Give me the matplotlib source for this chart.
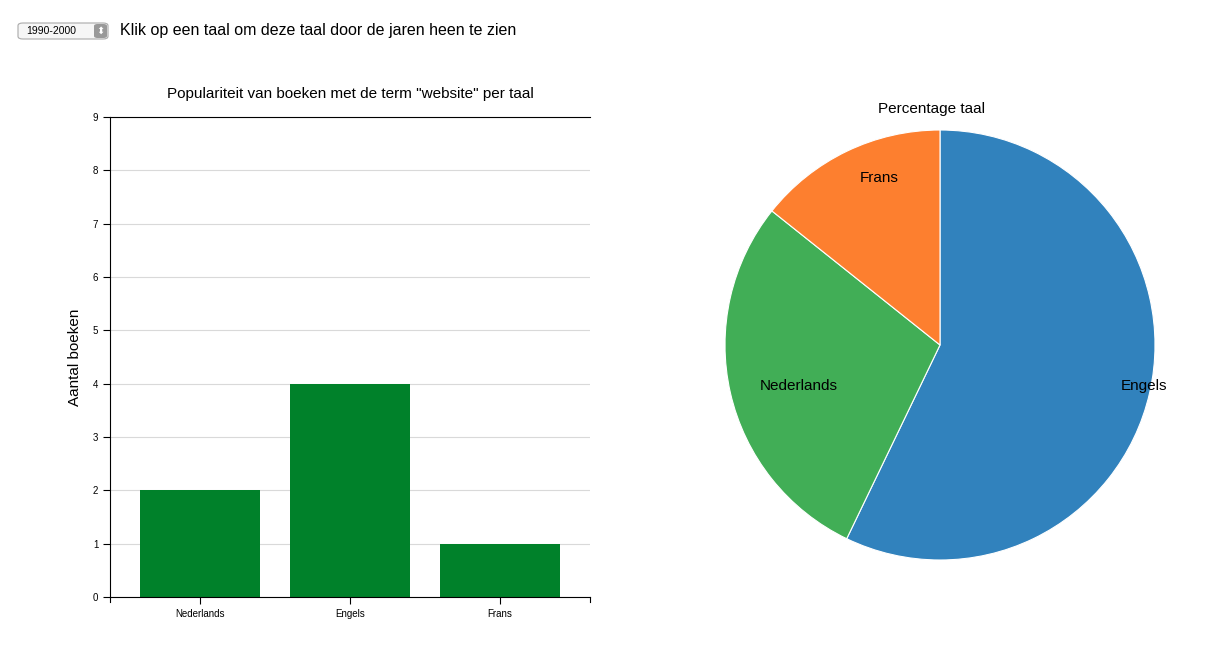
import numpy as np
import matplotlib
matplotlib.use('Agg')
import matplotlib.pyplot as plt
from matplotlib.patches import FancyBboxPatch

plt.rcParams['font.family'] = ['Liberation Sans', 'DejaVu Sans']

talen = ['Nederlands', 'Engels', 'Frans']
aantal = [2, 4, 1]
pie_talen = ['Engels', 'Nederlands', 'Frans']
pie_waarden = [4, 2, 1]
pie_kleuren = ['#3182bd', '#41ae56', '#fd7f2f']
jaren = '1990-2000'

fig = plt.figure(figsize=(12.21, 6.54), dpi=100)

# dropdown + instructie
box = FancyBboxPatch((18 / 1221, 1 - 39 / 654), 90 / 1221, 16 / 654,
                     boxstyle='round,pad=0,rounding_size=0.004',
                     transform=fig.transFigure, fc='#f6f6f6', ec='#aaaaaa', lw=0.8)
fig.patches.append(box)
fig.text(26 / 1221, 1 - 31 / 654, jaren, fontsize=7.5, va='center')
fig.patches.append(FancyBboxPatch((94 / 1221, 1 - 38 / 654), 13 / 1221, 14 / 654,
                                  boxstyle='round,pad=0,rounding_size=0.003',
                                  transform=fig.transFigure, fc='#999999', ec='none'))
fig.text(100.5 / 1221, 1 - 31 / 654, '⬍', fontsize=7, color='white', ha='center', va='center')
fig.text(120 / 1221, 1 - 31 / 654, 'Klik op een taal om deze taal door de jaren heen te zien',
         fontsize=11.5, va='center')

# staafdiagram
ax = fig.add_axes([110 / 1221, 57 / 654, 480 / 1221, 480 / 654])
x = np.arange(len(talen))
ax.bar(x, aantal, width=0.8, color='#00812a', zorder=2)
ax.set_xlim(-0.6, 2.6)
ax.set_ylim(0, 9)
ax.set_yticks(range(10))
ax.set_xticks(x)
ax.set_xticklabels(talen)
ax.tick_params(labelsize=7, length=5, width=0.8)
ax.yaxis.grid(True, color='#d9d9d9', lw=0.8, zorder=0)
ax.spines['right'].set_visible(False)
for s in ['left', 'bottom', 'top']:
    ax.spines[s].set_linewidth(0.8)
ax.set_ylabel('Aantal boeken', fontsize=11, labelpad=8)
ax.set_title('Populariteit van boeken met de term "website" per taal', fontsize=11, pad=14)
for xe in (-0.6, 2.6):
    ax.plot([xe, xe], [0, -0.09], color='black', lw=0.8, clip_on=False)

# taartdiagram
pax = fig.add_axes([725 / 1221, 94 / 654, 430 / 1221, 430 / 654])
wedges, _ = pax.pie(pie_waarden, colors=pie_kleuren, startangle=90, counterclock=False,
                    wedgeprops=dict(edgecolor='white', linewidth=0.8))
for w, naam in zip(wedges, pie_talen):
    mid = np.deg2rad((w.theta1 + w.theta2) / 2)
    px, py = 0.86 * np.cos(mid), 0.86 * np.sin(mid)
    pax.text(px, py, naam, fontsize=11, ha='left', va='center')
pax.set_aspect('equal')
pax.set_xlim(-1, 1)
pax.set_ylim(-1, 1)
fig.text(932 / 1221, 1 - 109 / 654, 'Percentage taal', fontsize=11, ha='center', va='center')

fig.savefig('out.png', dpi=100)
